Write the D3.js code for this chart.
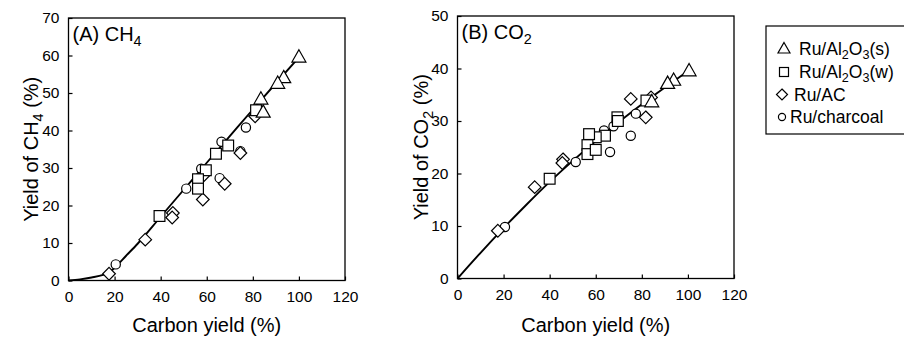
<!DOCTYPE html>
<html>
<head>
<meta charset="utf-8">
<script src="https://cdn.jsdelivr.net/npm/d3@7"></script>
<style>
  body { margin: 0; background: #fff; }
  text { font-family: "Liberation Sans", Arial, sans-serif; fill: #000; }
</style>
</head>
<body>
<svg id="chart"></svg>
<script>
// tick values
const xTicks = [0, 20, 40, 60, 80, 100, 120]
const ch4Ticks = [0, 10, 20, 30, 40, 50, 60, 70]
const co2Ticks = [0, 10, 20, 30, 40, 50]

// (A) CH4 yield vs carbon yield, [carbon yield %, CH4 yield %]
const ch4Al2O3s = [[100, 59.5], [93.4, 54], [90.8, 52.5], [83.5, 48.3], [84.5, 44.8]]
const ch4Al2O3w = [[81.4, 45.4], [69.3, 36], [64, 33.8], [59.6, 29.4], [56.2, 27], [56.2, 24.5], [39.5, 17.2]]
const ch4AC = [[81, 43.8], [74.6, 34], [58.6, 28], [58.3, 21.6], [67.8, 25.8], [45.3, 18], [45, 16.8], [33.3, 10.9], [17.6, 1.8]]
const ch4Charcoal = [[77, 40.8], [66.4, 37], [74.6, 34.5], [57.6, 29.8], [51.1, 24.5], [65.6, 27.3], [20.5, 4.3]]
const ch4Fit = [[0, 0], [5, 0.3], [10, 0.8], [15, 1.5], [18, 2.3], [20, 3.4], [25, 6.6], [30, 9.8], [40, 17],
  [50, 24.2], [60, 31.4], [70, 38.5], [80, 45.6], [90, 52.6], [100, 59.5]]

// (B) CO2 yield vs carbon yield
const co2Al2O3s = [[100.5, 39.5], [93.8, 37.7], [91.2, 37.1], [84.3, 33.6]]
const co2Al2O3w = [[82, 33.9], [69.4, 30.7], [69.6, 30], [64, 27.2], [60, 26.9], [57.1, 27.5], [56.4, 25.4],
  [56.4, 23.7], [60, 24.5], [40, 19]]
const co2AC = [[84, 34.5], [75.2, 34.2], [81.7, 30.7], [45.8, 22.7], [45.5, 22], [33.5, 17.4], [17.5, 9.1]]
const co2Charcoal = [[77.4, 31.4], [75.2, 27.2], [63.6, 28.2], [67.7, 29], [66.2, 24.1], [51.3, 22.2], [20.6, 9.8]]
const co2Fit = [[0, 0], [10, 4.9], [20, 9.6], [30, 14.1], [40, 18.4], [50, 22.4], [60, 26.2], [70, 29.8],
  [80, 33.2], [90, 36.4], [100, 39.5]]

const legendNames = [
  [["Ru/Al"], ["2", 1], ["O"], ["3", 1], ["(s)"]],
  [["Ru/Al"], ["2", 1], ["O"], ["3", 1], ["(w)"]],
  [["Ru/AC"]],
  [["Ru/charcoal"]]
]
const markerTypes = ["triangle", "square", "diamond", "circle"]

const svg = d3.select("#chart").attr("width", 904).attr("height", 340)

function richText(sel, parts) {
  parts.forEach(([t, sub]) => {
    sel.append("tspan")
      .attr("font-size", sub ? "0.72em" : null)
      .attr("dy", sub ? "0.32em" : (sel.selectAll("tspan").size() > 1 ? "-0.23em" : null))
      .text(t)
  })
  return sel
}

function marker(g, type, x, y, s) {
  const st = {fill: "#fff", stroke: "#000", "stroke-width": 1.2}
  let el
  if (type === "triangle") {
    const h = s * 0.88
    el = g.append("path").attr("d", `M${x},${y - h * 0.62}L${x + s / 2},${y + h * 0.38}L${x - s / 2},${y + h * 0.38}Z`)
  } else if (type === "square") {
    el = g.append("rect").attr("x", x - s * 0.45).attr("y", y - s * 0.45).attr("width", s * 0.9).attr("height", s * 0.9)
  } else if (type === "diamond") {
    const d = s * 0.55
    el = g.append("path").attr("d", `M${x},${y - d}L${x + d},${y}L${x},${y + d}L${x - d},${y}Z`)
  } else {
    el = g.append("circle").attr("cx", x).attr("cy", y).attr("r", s * 0.42)
  }
  Object.entries(st).forEach(([k, v]) => el.attr(k, v))
}

const panels = [
  {
    xr: [68.5, 345], yr: [280.5, 18], ymax: 70, yTicks: ch4Ticks,
    label: [["(A) CH"], ["4", 1]], ytitle: [["Yield of CH"], ["4", 1], [" (%)"]], titleX: 38,
    series: [ch4Charcoal, ch4AC, ch4Al2O3w, ch4Al2O3s], fit: ch4Fit
  },
  {
    xr: [457.5, 734], yr: [278.5, 16], ymax: 50, yTicks: co2Ticks,
    label: [["(B) CO"], ["2", 1]], ytitle: [["Yield of CO"], ["2", 1], [" (%)"]], titleX: 428,
    series: [co2Charcoal, co2AC, co2Al2O3w, co2Al2O3s], fit: co2Fit
  }
]
const seriesTypes = ["circle", "diamond", "square", "triangle"]

panels.forEach(p => {
  const x = d3.scaleLinear().domain([0, 120]).range(p.xr)
  const y = d3.scaleLinear().domain([0, p.ymax]).range(p.yr)
  const g = svg.append("g")

  g.append("g")
    .attr("transform", `translate(0,${p.yr[0]})`)
    .call(d3.axisBottom(x).tickValues(xTicks).tickSizeInner(-4).tickSizeOuter(0).tickPadding(10))
    .call(a => a.select(".domain").remove())
    .call(a => a.selectAll("text").attr("font-size", 15.5).attr("font-family", null))
    .call(a => a.selectAll("line").attr("stroke-width", 1.2))

  g.append("g")
    .attr("transform", `translate(${p.xr[0]},0)`)
    .call(d3.axisLeft(y).tickValues(p.yTicks).tickSizeInner(-4).tickSizeOuter(0).tickPadding(9))
    .call(a => a.select(".domain").remove())
    .call(a => a.selectAll("text").attr("font-size", 15.5).attr("font-family", null))
    .call(a => a.selectAll("line").attr("stroke-width", 1.2))

  g.append("rect")
    .attr("x", p.xr[0]).attr("y", p.yr[1])
    .attr("width", p.xr[1] - p.xr[0]).attr("height", p.yr[0] - p.yr[1])
    .attr("fill", "none").attr("stroke", "#000").attr("stroke-width", 1.3)

  g.append("path")
    .datum(p.fit)
    .attr("fill", "none").attr("stroke", "#000").attr("stroke-width", 1.9)
    .attr("d", d3.line().x(d => x(d[0])).y(d => y(d[1])).curve(d3.curveMonotoneX))

  const pts = g.append("g")
  p.series.forEach((data, i) => {
    const size = {circle: 11, diamond: 11.5, square: 12, triangle: 14}[seriesTypes[i]]
    data.forEach(d => marker(pts, seriesTypes[i], x(d[0]), y(d[1]), size))
  })

  richText(g.append("text").attr("x", p.xr[0] + 4).attr("y", p.yr[1] + 23).attr("font-size", 20), p.label)

  g.append("text")
    .attr("x", (p.xr[0] + p.xr[1]) / 2).attr("y", 332)
    .attr("text-anchor", "middle").attr("font-size", 20)
    .text("Carbon yield (%)")

  richText(g.append("text")
    .attr("transform", `translate(${p.titleX},${(p.yr[0] + p.yr[1]) / 2}) rotate(-90)`)
    .attr("text-anchor", "middle").attr("font-size", 20), p.ytitle)
})

// legend
const lg = svg.append("g")
lg.append("rect")
  .attr("x", 766).attr("y", 26).attr("width", 160).attr("height", 108)
  .attr("fill", "none").attr("stroke", "#000").attr("stroke-width", 1.2)

const legendRows = [49, 72, 94.5, 117]
const legendMarkX = [784, 784, 782, 782]
const legendTextX = [799, 799, 794, 790]
const legendSize = [12, 10, 10, 8.5]
legendNames.forEach((name, i) => {
  marker(lg, markerTypes[i], legendMarkX[i], legendRows[i], legendSize[i])
  richText(lg.append("text").attr("x", legendTextX[i]).attr("y", legendRows[i] + 6).attr("font-size", 17.5), name)
})
</script>
</body>
</html>
